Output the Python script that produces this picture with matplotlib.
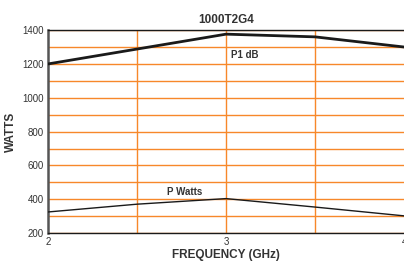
import matplotlib
matplotlib.use("Agg")
import matplotlib.pyplot as plt

plt.rcParams['font.family'] = ['Liberation Sans', 'DejaVu Sans']

# frequency points (GHz)
freq = [2, 2.5, 3, 3.5, 4]
p1db = [1200, 1288, 1376, 1360, 1300]
pwatts = [325, 371, 404, 354, 302]

yticks = [200, 400, 600, 800, 1000, 1200, 1400]
xticks = [2, 3, 4]

fig = plt.figure(figsize=(4.04, 2.64), dpi=100)
ax = fig.add_axes([0.119, 0.117, 0.881, 0.769])

orange = '#f7882a'
for y in range(200, 1500, 100):
    ax.axhline(y, color=orange, lw=1.0, zorder=1)
for x in [2.5, 3, 3.5]:
    ax.axvline(x, color=orange, lw=1.0, zorder=1)

ax.plot(freq, p1db, color='#1a1a1a', lw=2.0, zorder=3)
ax.plot(freq, pwatts, color='#1a1a1a', lw=1.0, zorder=3)

ax.text(3.03, 1252, 'P1 dB', fontsize=7, fontweight='bold', color='#333333', va='center')
ax.text(2.77, 443, 'P Watts', fontsize=7, fontweight='bold', color='#333333', ha='center', va='center')

ax.set_xlim(2, 4)
ax.set_ylim(200, 1400)
ax.set_xticks(xticks)
ax.set_yticks(yticks)
ax.tick_params(length=0, labelsize=7, colors='#333333', pad=3)
for s in ['top', 'bottom']:
    ax.spines[s].set_color('#1a1a1a')
    ax.spines[s].set_linewidth(1.0)
ax.spines['left'].set_color('#555555')
ax.spines['left'].set_linewidth(1.8)
ax.spines['right'].set_visible(False)

ax.set_title('1000T2G4', fontsize=8.5, fontweight='bold', color='#333333', pad=5)
ax.set_xlabel('FREQUENCY (GHz)', fontsize=8.5, fontweight='bold', color='#333333', labelpad=1)
ax.set_ylabel('WATTS', fontsize=8.5, fontweight='bold', color='#333333', labelpad=4)

fig.savefig('out.png', dpi=100)
